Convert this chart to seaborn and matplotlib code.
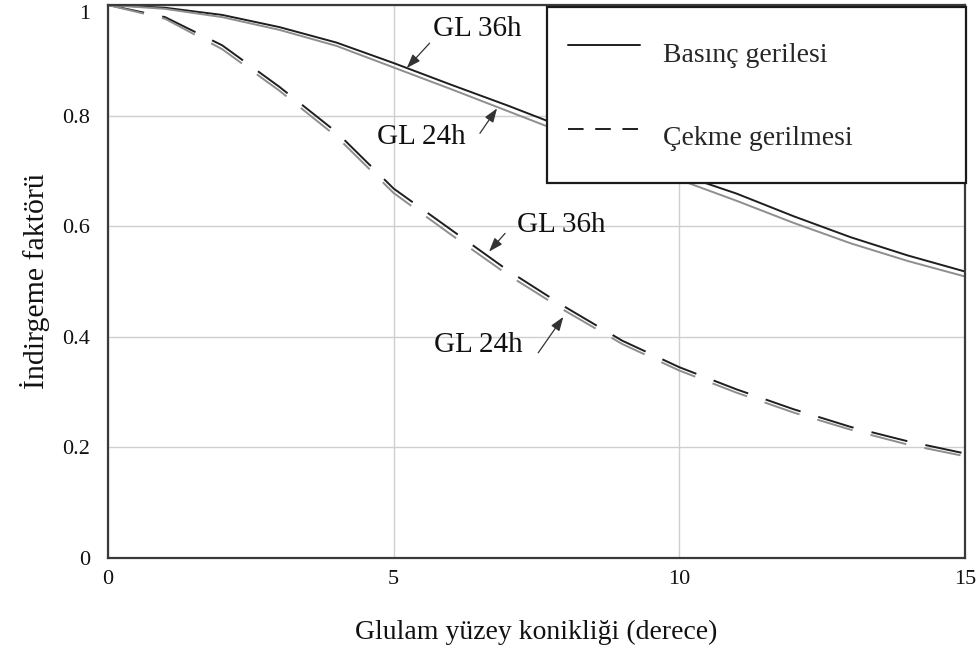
import numpy as np
import pandas as pd
import matplotlib
matplotlib.use("Agg")
import matplotlib.pyplot as plt
from matplotlib.lines import Line2D
import seaborn as sns

# Glulam surface taper angle (degrees)
taper = [0, 1, 2, 3, 4, 5, 6, 7, 8, 9, 10, 11, 12, 13, 14, 15]

# Reduction factors: compression (solid) and tension (dashed), two grades
comp_gl36 = [1.0, 0.995, 0.982, 0.960, 0.932, 0.895, 0.856, 0.818, 0.778, 0.736,
             0.694, 0.659, 0.618, 0.580, 0.547, 0.518]
comp_gl24 = [1.0, 0.993, 0.978, 0.955, 0.926, 0.887, 0.848, 0.808, 0.768, 0.726,
             0.684, 0.646, 0.606, 0.569, 0.537, 0.509]
tens_gl36 = [1.0, 0.978, 0.927, 0.852, 0.770, 0.668, 0.594, 0.520, 0.454, 0.393,
             0.345, 0.305, 0.269, 0.237, 0.211, 0.189]
tens_gl24 = [1.0, 0.975, 0.920, 0.845, 0.762, 0.660, 0.585, 0.512, 0.447, 0.387,
             0.339, 0.299, 0.263, 0.232, 0.205, 0.184]

x_ticks = [0, 5, 10, 15]
x_tick_labels = ["0", "5", "10", "15"]
y_ticks = [0, 0.2, 0.4, 0.6, 0.8, 1.0]
y_tick_labels = ["0", "0.2", "0.4", "0.6", "0.8", "1"]

stress_labels = ["Basınç gerilesi", "Çekme gerilmesi"]
grades = ["GL 36h", "GL 24h"]

rows = []
for stress, grade, vals in [
    ("Basınç", "GL 36h", comp_gl36),
    ("Basınç", "GL 24h", comp_gl24),
    ("Çekme", "GL 36h", tens_gl36),
    ("Çekme", "GL 24h", tens_gl24),
]:
    for xv, yv in zip(taper, vals):
        rows.append({"taper": xv, "factor": yv, "stress": stress, "grade": grade})
df = pd.DataFrame(rows)

sns.set_theme(style="whitegrid")
plt.rcParams["font.family"] = ["Liberation Serif", "DejaVu Serif"]

fig = plt.figure(figsize=(9.78, 6.55), dpi=100)
ax = fig.add_axes([0.1104, 0.1481, 0.8763, 0.8443])

lw = 1.4
sns.lineplot(
    data=df, x="taper", y="factor", hue="grade", style="stress",
    palette={"GL 36h": "#1e1e1e", "GL 24h": "#8e8e8e"},
    dashes={"Basınç": "", "Çekme": (19, 9.5)},
    linewidth=lw, legend=False, ax=ax, sort=True,
)

ax.set_xlim(0, 15)
ax.set_ylim(0, 1)
ax.set_xticks(x_ticks)
ax.set_xticklabels(x_tick_labels)
ax.set_yticks(y_ticks)
ax.set_yticklabels(y_tick_labels)
ax.tick_params(axis="both", length=0, labelsize=16, colors="#111111")
ax.tick_params(axis="x", pad=9)
ax.tick_params(axis="y", pad=13)
# keep the top "1" label inside the figure
ax.get_yticklabels()[-1].set_verticalalignment("top")
ax.grid(True, color="#cfcfcf", linewidth=1.0)
for sp in ax.spines.values():
    sp.set_visible(True)
    sp.set_color("#3a3a3a")
    sp.set_linewidth(1.6)

ax.set_xlabel("Glulam yüzey konikliği (derece)", fontsize=20, labelpad=22, color="#111111")
ax.set_ylabel("İndirgeme faktörü", fontsize=21.5, labelpad=9, color="#111111")

# Curve annotations
arrow = dict(arrowstyle="-|>,head_length=0.7,head_width=0.25", color="#333333",
             lw=0.9, shrinkA=0, shrinkB=0)
ann = [
    ("GL 36h", (5.23, 0.886), (6.47, 0.956), (5.63, 0.931)),
    ("GL 24h", (6.81, 0.813), (5.48, 0.761), (6.51, 0.768)),
    ("GL 36h", (6.67, 0.554), (7.94, 0.602), (6.95, 0.587)),
    ("GL 24h", (7.97, 0.436), (6.49, 0.385), (7.53, 0.371)),
]
for text, head, txt_pos, tail in ann:
    ax.annotate("", xy=head, xytext=tail, arrowprops=arrow)
    ax.text(*txt_pos, text, fontsize=21, ha="center", va="center", color="#111111")

handles = [
    Line2D([], [], color="#1e1e1e", lw=lw),
    Line2D([], [], color="#1e1e1e", lw=lw, dashes=(8, 6)),
]
leg = ax.legend(
    handles, stress_labels, loc="upper left",
    bbox_to_anchor=(0.512, 0.0, 0.489, 0.996), mode="expand",
    fontsize=20, frameon=True, fancybox=False, framealpha=1.0,
    edgecolor="#1a1a1a", borderpad=0.76, labelspacing=1.2,
    handlelength=2.6, handleheight=2.4, handletextpad=0.83, borderaxespad=0.0,
)
leg.get_frame().set_linewidth(1.6)
leg.set_zorder(5)

fig.savefig("out.png", dpi=100, facecolor="white")
